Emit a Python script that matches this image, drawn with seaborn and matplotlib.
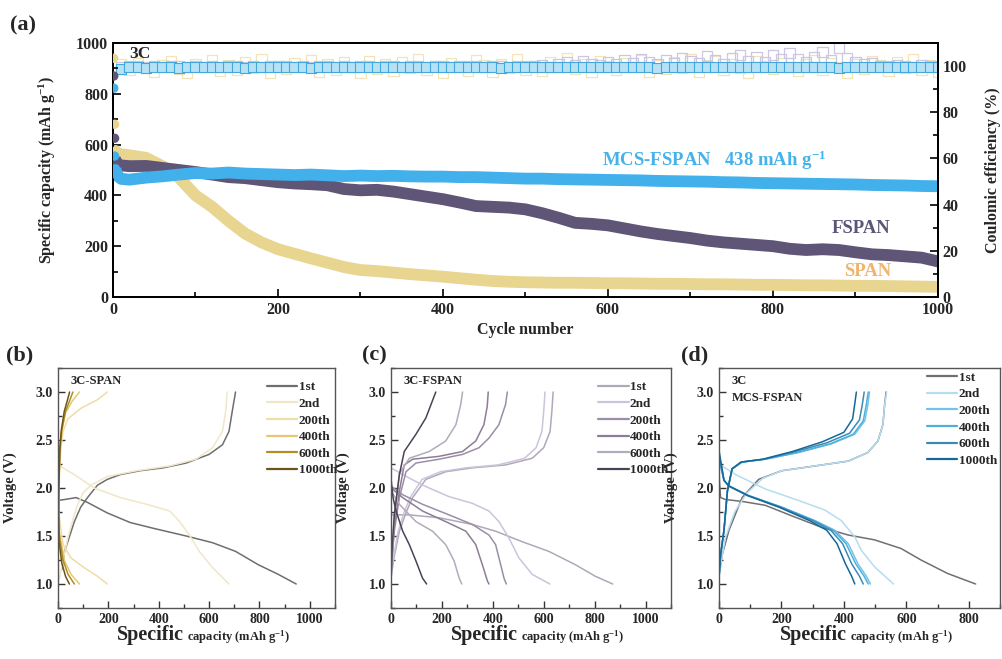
import matplotlib
matplotlib.use("Agg")
import matplotlib.pyplot as plt
import seaborn as sns
from matplotlib.ticker import MultipleLocator

# ---------------- panel (a) data ----------------
CYCLES = [1, 2, 3, 5, 10] + list(range(20, 1001, 20))
SPAN_CAP = [940, 680, 575, 568, 562, 558, 548, 515, 470, 400, 355, 300, 250, 215, 188,
            170, 152, 135, 118, 106, 102, 96, 90, 85, 80, 74, 68, 63, 60, 58,
            57, 56, 56, 55, 54, 54, 53, 52, 52, 51, 50, 50, 49, 48, 48,
            47, 46, 46, 45, 44, 44, 43, 42, 41, 40]
FSPAN_CAP = [870, 625, 540, 522, 518, 515, 516, 508, 500, 492, 482, 472, 468, 460, 452,
             447, 444, 440, 425, 420, 422, 415, 405, 395, 385, 372, 358, 355, 352, 345,
             330, 312, 292, 288, 282, 270, 258, 248, 240, 232, 222, 215, 210, 205, 200,
             190, 185, 188, 185, 176, 168, 165, 160, 155, 140]
MCS_CAP = [822, 555, 505, 478, 465, 462, 470, 475, 482, 488, 486, 490, 486, 484, 482,
           480, 482, 479, 476, 478, 476, 477, 475, 474, 474, 472, 472, 470, 468, 466,
           466, 464, 463, 462, 461, 460, 459, 457, 456, 455, 454, 452, 451, 449, 448,
           447, 446, 445, 444, 443, 441, 440, 439, 437, 436]

CE_CYCLES = list(range(10, 1001, 10))
MCS_CE = [98.8, 99.4, 99.6, 99.3, 99.7, 99.5, 99.6, 99.2, 99.6, 99.5,
          99.7, 99.4, 99.6, 99.5, 99.8, 99.3, 99.6, 99.5, 99.7, 99.4,
          99.6, 99.5, 99.7, 99.3, 99.6, 99.5, 99.8, 99.4, 99.6, 99.5,
          99.7, 99.4, 99.6, 99.6, 99.5, 99.8, 99.4, 99.6, 99.5, 99.7,
          99.5, 99.6, 99.4, 99.7, 99.5, 99.6, 99.3, 99.7, 99.5, 99.6,
          99.4, 99.7, 99.5, 99.6, 99.5, 99.8, 99.4, 99.6, 99.5, 99.7,
          99.6, 99.4, 99.7, 99.5, 99.6, 99.3, 99.7, 99.5, 99.6, 99.4,
          99.7, 99.5, 99.6, 99.4, 99.7, 99.5, 99.6, 99.5, 99.8, 99.4,
          99.6, 99.5, 99.7, 99.4, 99.6, 99.5, 99.7, 99.3, 99.6, 99.5,
          99.7, 99.4, 99.6, 99.5, 99.6, 99.7, 99.4, 99.6, 99.5, 99.6]
SPAN_CE = [100.8, 98.2, 101.5, 99.0, 97.6, 100.4, 102.3, 98.8, 96.9, 101.0,
           99.4, 102.8, 97.8, 100.6, 98.5, 101.8, 99.2, 103.0, 97.2, 100.2,
           98.6, 101.4, 99.8, 102.5, 97.4, 100.9, 98.1, 101.7, 99.5, 96.8,
           102.0, 98.9, 100.7, 97.7, 101.9, 99.3, 103.2, 98.4, 100.1, 97.1,
           101.3, 99.7, 98.0, 102.6, 100.5, 97.5, 101.1, 99.1, 102.9, 98.3,
           100.0, 97.9, 101.6, 99.6, 103.4, 98.7, 100.8, 97.3, 102.2, 99.9,
           98.2, 101.2, 99.4, 102.7, 97.6, 100.3, 98.8, 101.8, 99.0, 103.1,
           97.4, 100.6, 102.1, 98.5, 101.0, 99.2, 97.0, 102.4, 100.2, 98.6,
           101.5, 99.8, 97.7, 100.9, 102.8, 98.1, 101.3, 99.5, 96.9, 100.7,
           98.9, 102.2, 100.4, 97.8, 101.7, 99.1, 103.0, 98.4, 100.6, 97.5]
FSPAN_CE = [99.7, 99.9, 100.1, 99.8, 100.0, 99.6, 99.9, 100.2, 99.8, 100.0,
            99.8, 100.0, 99.7, 99.9, 100.1, 99.8, 100.0, 99.6, 99.9, 100.1,
            99.9, 99.7, 100.0, 99.8, 100.2, 99.9, 99.7, 100.0, 99.8, 99.9,
            100.0, 99.8, 99.9, 100.1, 99.7, 100.0, 99.9, 99.8, 100.1, 99.9,
            99.8, 100.0, 99.9, 100.2, 99.8, 99.9, 100.0, 99.7, 100.1, 99.9,
            99.9, 100.3, 99.7, 100.8, 101.6, 100.4, 102.2, 101.0, 100.6, 101.9,
            100.9, 102.5, 101.3, 103.0, 101.8, 100.7, 102.8, 101.2, 103.6, 102.0,
            101.4, 104.2, 102.6, 101.1, 103.4, 105.0, 102.1, 103.8, 101.6, 104.6,
            102.9, 105.5, 103.2, 101.8, 104.0, 106.3, 102.7, 107.8, 103.5, 101.9,
            100.8, 101.5, 100.2, 99.9, 100.6, 100.1, 99.8, 100.3, 99.9, 100.0]

CAP_TICKS = [0, 200, 400, 600, 800, 1000]
CE_TICKS = [0, 20, 40, 60, 80, 100]
V_TICKS = [1.0, 1.5, 2.0, 2.5, 3.0]

# ---------------- panels (b)-(d) data: (capacity, voltage) ----------------
CYCLE_LABELS = ["1st", "2nd", "200th", "400th", "600th", "1000th"]

B_DIS = {
    "1st": ([0, 26, 72, 117, 196, 287, 379, 509, 614, 705, 796, 875, 946],
            [1.87, 1.88, 1.90, 1.85, 1.74, 1.64, 1.58, 1.50, 1.43, 1.34, 1.20, 1.10, 1.00]),
    "2nd": ([0, 65, 144, 248, 352, 444, 483, 522, 561, 614, 679],
            [2.24, 2.14, 2.00, 1.90, 1.83, 1.76, 1.65, 1.51, 1.34, 1.17, 1.00]),
    "200th": ([0, 5, 20, 52, 104, 157, 196], [2.10, 1.70, 1.41, 1.27, 1.17, 1.08, 1.00]),
    "400th": ([0, 5, 26, 52, 85], [2.00, 1.55, 1.24, 1.10, 1.00]),
    "600th": ([0, 5, 20, 40, 65], [2.00, 1.50, 1.25, 1.10, 1.00]),
    "1000th": ([0, 4, 15, 30, 45], [1.90, 1.45, 1.22, 1.08, 1.00]),
}
B_CHG = {
    "1st": ([15, 26, 40, 65, 90, 117, 157, 196, 248, 326, 418, 509, 600, 653, 679, 692, 705],
            [1.15, 1.34, 1.45, 1.65, 1.80, 1.90, 2.03, 2.09, 2.14, 2.18, 2.21, 2.26, 2.35, 2.45, 2.59, 2.80, 3.00]),
    "2nd": ([5, 20, 39, 60, 78, 100, 131, 196, 313, 444, 548, 614, 653, 666, 672],
            [1.05, 1.25, 1.48, 1.68, 1.83, 1.95, 2.03, 2.12, 2.18, 2.23, 2.30, 2.42, 2.59, 2.80, 3.00]),
    "200th": ([0, 3, 7, 13, 20, 39, 91, 157, 196], [1.20, 1.83, 2.24, 2.45, 2.59, 2.72, 2.83, 2.92, 3.00]),
    "400th": ([0, 3, 8, 15, 30, 55, 85], [1.30, 2.00, 2.40, 2.60, 2.78, 2.90, 3.00]),
    "600th": ([0, 3, 8, 15, 30, 45, 59], [1.30, 2.00, 2.40, 2.60, 2.80, 2.90, 3.00]),
    "1000th": ([0, 3, 7, 13, 25, 36, 46], [1.30, 2.00, 2.40, 2.60, 2.80, 2.90, 3.00]),
}
C_DIS = {
    "1st": ([0, 72, 189, 320, 411, 516, 620, 725, 803, 871],
            [1.72, 1.72, 1.69, 1.62, 1.55, 1.44, 1.34, 1.20, 1.08, 1.00]),
    "2nd": ([0, 46, 124, 228, 320, 385, 424, 463, 503, 555, 624],
            [2.21, 2.14, 2.03, 1.91, 1.84, 1.76, 1.65, 1.48, 1.27, 1.10, 1.00]),
    "200th": ([0, 46, 124, 228, 320, 385, 411, 431, 444, 453],
              [2.02, 1.93, 1.83, 1.72, 1.62, 1.51, 1.41, 1.20, 1.06, 1.00]),
    "400th": ([0, 46, 124, 215, 294, 333, 359, 379, 385],
              [2.00, 1.90, 1.76, 1.65, 1.55, 1.41, 1.20, 1.03, 1.00]),
    "600th": ([0, 33, 98, 163, 215, 248, 268, 278],
              [1.97, 1.83, 1.65, 1.55, 1.41, 1.24, 1.06, 1.00]),
    "1000th": ([0, 8, 20, 46, 72, 98, 124, 140],
               [2.10, 1.90, 1.76, 1.55, 1.41, 1.24, 1.06, 1.00]),
}
C_CHG = {
    "1st": ([0, 10, 33, 60, 85, 137, 215, 320, 450, 555, 600, 625, 632, 637],
            [1.06, 1.25, 1.55, 1.75, 1.90, 2.09, 2.17, 2.21, 2.24, 2.31, 2.42, 2.59, 2.80, 3.00]),
    "2nd": ([0, 8, 28, 52, 75, 122, 195, 295, 420, 525, 570, 593, 600, 605],
            [1.06, 1.25, 1.55, 1.75, 1.90, 2.09, 2.17, 2.21, 2.24, 2.31, 2.42, 2.59, 2.80, 3.00]),
    "200th": ([0, 5, 13, 33, 59, 98, 189, 281, 346, 385, 424, 450, 457],
              [1.06, 1.30, 1.55, 1.90, 2.17, 2.26, 2.30, 2.35, 2.42, 2.52, 2.66, 2.87, 3.00]),
    "400th": ([0, 5, 13, 33, 52, 85, 189, 281, 333, 365, 378, 382],
              [1.06, 1.30, 1.60, 1.97, 2.24, 2.30, 2.33, 2.38, 2.49, 2.66, 2.85, 3.00]),
    "600th": ([0, 5, 13, 33, 72, 150, 215, 255, 274, 281],
              [1.06, 1.35, 1.70, 2.15, 2.31, 2.38, 2.49, 2.66, 2.87, 3.00]),
    "1000th": ([0, 5, 13, 33, 52, 98, 137, 176],
               [1.06, 1.40, 1.72, 2.14, 2.38, 2.56, 2.73, 3.00]),
}
D_DIS = {
    "1st": ([0, 5, 21, 74, 148, 233, 329, 414, 498, 583, 647, 732, 822],
            [2.14, 1.90, 1.88, 1.86, 1.82, 1.71, 1.59, 1.51, 1.46, 1.37, 1.25, 1.11, 1.00]),
    "2nd": ([0, 53, 148, 255, 339, 392, 435, 456, 498, 559],
            [2.25, 2.14, 1.99, 1.87, 1.77, 1.66, 1.49, 1.35, 1.18, 1.00]),
    "200th": ([0, 16, 32, 95, 201, 308, 371, 414, 445, 472, 485],
              [2.30, 2.08, 2.02, 1.92, 1.80, 1.66, 1.56, 1.42, 1.21, 1.08, 1.00]),
    "400th": ([0, 16, 32, 95, 201, 305, 366, 407, 438, 465, 478],
              [2.30, 2.08, 2.02, 1.92, 1.80, 1.66, 1.56, 1.42, 1.21, 1.08, 1.00]),
    "600th": ([0, 16, 32, 95, 198, 300, 358, 396, 425, 450, 462],
              [2.35, 2.08, 2.02, 1.92, 1.80, 1.66, 1.56, 1.42, 1.21, 1.08, 1.00]),
    "1000th": ([0, 16, 32, 92, 192, 290, 345, 378, 405, 425, 435],
               [2.39, 2.08, 2.02, 1.92, 1.80, 1.66, 1.56, 1.42, 1.21, 1.08, 1.00]),
}
D_CHG = {
    "1st": ([0, 10, 32, 74, 127, 201, 308, 414, 477, 509, 525, 530, 535],
            [1.08, 1.30, 1.56, 1.90, 2.09, 2.18, 2.23, 2.28, 2.37, 2.49, 2.66, 2.85, 3.00]),
    "2nd": ([0, 8, 21, 50, 90, 140, 201, 308, 414, 477, 509, 525, 530, 537],
            [1.08, 1.25, 1.49, 1.75, 1.95, 2.10, 2.18, 2.23, 2.28, 2.37, 2.49, 2.66, 2.85, 3.00]),
    "200th": ([0, 5, 16, 27, 42, 74, 148, 255, 360, 435, 467, 477, 482],
              [1.08, 1.30, 1.56, 1.97, 2.20, 2.27, 2.30, 2.37, 2.46, 2.56, 2.70, 2.87, 3.00]),
    "400th": ([0, 5, 16, 27, 42, 74, 148, 252, 356, 430, 462, 472, 478],
              [1.08, 1.30, 1.56, 1.97, 2.20, 2.27, 2.30, 2.37, 2.46, 2.56, 2.70, 2.87, 3.00]),
    "600th": ([0, 5, 16, 27, 42, 72, 145, 245, 345, 418, 450, 459, 465],
              [1.08, 1.30, 1.56, 1.97, 2.20, 2.27, 2.30, 2.38, 2.47, 2.57, 2.71, 2.87, 3.00]),
    "1000th": ([0, 5, 16, 27, 42, 70, 140, 235, 330, 400, 428, 435, 440],
               [1.08, 1.30, 1.56, 1.97, 2.20, 2.27, 2.30, 2.38, 2.48, 2.58, 2.72, 2.88, 3.00]),
}

B_COLORS = ["#6e6e6e", "#f1e6c8", "#f0dca8", "#e6c874", "#b08e24", "#6e5418"]
C_COLORS = ["#b0a8b8", "#cbc4da", "#9a8fa6", "#8d7d96", "#b3aabb", "#4a4356"]
D_COLORS = ["#707070", "#b5dcf0", "#72c3ec", "#4fb0de", "#3a8cb5", "#15689a"]

# ---------------- style ----------------
sns.set_theme(style="ticks")
plt.rcParams["font.family"] = ["Liberation Serif", "DejaVu Serif"]
plt.rcParams["font.weight"] = "bold"
plt.rcParams["axes.labelweight"] = "bold"
plt.rcParams["mathtext.fontset"] = "custom"
plt.rcParams["mathtext.rm"] = "Liberation Serif:bold"
plt.rcParams["mathtext.bf"] = "Liberation Serif:bold"
plt.rcParams["mathtext.it"] = "Liberation Serif:bold"

fig = plt.figure(figsize=(10.03, 6.59), dpi=100)
W, H = 1003.0, 659.0


def rect(x0, y0, x1, y1):
    return [x0 / W, 1 - y1 / H, (x1 - x0) / W, (y1 - y0) / H]


def bold_ticks(a, axis, ticks, fmt, size):
    labels = [fmt.format(t) for t in ticks]
    if axis == "x":
        a.set_xticks(ticks)
        a.set_xticklabels(labels, fontweight="bold", fontsize=size)
    else:
        a.set_yticks(ticks)
        a.set_yticklabels(labels, fontweight="bold", fontsize=size)


# ---------------- panel (a) ----------------
ax = fig.add_axes(rect(113, 43, 938, 297))
ax2 = ax.twinx()
ax.set_zorder(2)
ax.patch.set_visible(False)
ax2.set_zorder(1)

# CE squares (right axis)
sns.scatterplot(x=CE_CYCLES, y=SPAN_CE, ax=ax2, marker="s", s=52, facecolor="none",
                edgecolor="#f3e4b8", linewidth=0.9, legend=False)
sns.scatterplot(x=CE_CYCLES, y=FSPAN_CE, ax=ax2, marker="s", s=52, facecolor="none",
                edgecolor="#cdc6e2", linewidth=0.9, legend=False)
sns.scatterplot(x=CE_CYCLES, y=MCS_CE, ax=ax2, marker="s", s=52, facecolor="#b6e2f6",
                edgecolor="#45a8dc", linewidth=0.8, legend=False)

# capacity bands (left axis)
for vals, col in [(SPAN_CAP, "#e8d590"), (FSPAN_CAP, "#5e5577"), (MCS_CAP, "#42b0ea")]:
    sns.lineplot(x=CYCLES[2:], y=vals[2:], ax=ax, color=col, linewidth=8.5,
                 solid_capstyle="round", sort=False, estimator=None, legend=False)
    sns.scatterplot(x=CYCLES[:4], y=vals[:4], ax=ax, color=col, edgecolor="none",
                    s=45, marker="o", legend=False, zorder=3)

ax.set_xlim(0, 1000)
ax.set_ylim(0, 1000)
ax2.set_ylim(0, 110)
bold_ticks(ax, "x", CAP_TICKS, "{:d}", 11.5)
bold_ticks(ax, "y", CAP_TICKS, "{:d}", 11.5)
bold_ticks(ax2, "y", CE_TICKS, "{:d}", 11.5)
ax.xaxis.set_minor_locator(MultipleLocator(100))
ax.yaxis.set_minor_locator(MultipleLocator(100))
ax2.yaxis.set_minor_locator(MultipleLocator(10))
for a in (ax, ax2):
    a.tick_params(which="both", direction="in", width=1.2, color="black")
    a.tick_params(which="major", length=6)
    a.tick_params(which="minor", length=3.5)
    for sp in a.spines.values():
        sp.set_linewidth(1.4)
        sp.set_color("black")
        sp.set_visible(True)
ax.tick_params(which="both", top=False, right=False)
ax2.tick_params(which="both", left=False)
ax.set_xlabel("Cycle number", fontsize=11.5, labelpad=3)
ax.set_ylabel("Specific capacity (mAh g$^{-1}$)", fontsize=11.5)
ax.yaxis.set_label_coords(-55 / 825, 0.5)
ax2.set_ylabel("Coulomic efficiency (%)", fontsize=11.5, rotation=90)
ax2.yaxis.set_label_coords(1 + 47 / 825, 0.5)

ax.text(20, 955, "3C", fontsize=12.5, fontweight="bold", va="center", ha="left")
ax.text(593, 539, "MCS-FSPAN   438 mAh g$^{-1}$", color="#45b2ea", fontsize=13.5,
        fontweight="bold", va="center", ha="left")
ax.text(871, 268, "FSPAN", color="#5e5678", fontsize=13.5, fontweight="bold",
        va="center", ha="left")
ax.text(886, 102, "SPAN", color="#f0b46e", fontsize=13.5, fontweight="bold",
        va="center", ha="left")
fig.text(10 / W, 1 - 25 / H, "(a)", fontsize=16, fontweight="bold", va="center", ha="left")


# ---------------- panels (b)-(d) ----------------
def voltage_panel(r, dis, chg, colors, xmax, xticks, title_lines, label, label_xy, legend_anchor):
    axp = fig.add_axes(rect(*r))
    for i, cyc in enumerate(CYCLE_LABELS):
        q, v = dis[cyc]
        sns.lineplot(x=q, y=v, ax=axp, color=colors[i], linewidth=1.1, sort=False,
                     estimator=None, label=cyc)
        q, v = chg[cyc]
        sns.lineplot(x=q, y=v, ax=axp, color=colors[i], linewidth=1.1, sort=False,
                     estimator=None)
    axp.set_xlim(0, xmax)
    axp.set_ylim(0.75, 3.25)
    bold_ticks(axp, "x", xticks, "{:d}", 10)
    bold_ticks(axp, "y", V_TICKS, "{:.1f}", 10)
    axp.xaxis.set_minor_locator(MultipleLocator(100))
    axp.yaxis.set_minor_locator(MultipleLocator(0.25))
    axp.tick_params(which="both", direction="in", width=1.0, color="#333333",
                    top=False, right=False)
    axp.tick_params(which="major", length=5)
    axp.tick_params(which="minor", length=3)
    for sp in axp.spines.values():
        sp.set_linewidth(1.0)
        sp.set_color("#555555")
    axp.set_xlabel("")
    axp.set_ylabel("Voltage (V)", fontsize=10.5)
    axp.yaxis.set_label_coords(-41 / (r[2] - r[0]), 0.5)
    axp.text(0.455, -0.135, "Specific", transform=axp.transAxes, fontsize=14.5,
             fontweight="bold", ha="right", va="baseline")
    axp.text(0.465, -0.135, "capacity (mAh g$^{-1}$)", transform=axp.transAxes,
             fontsize=9, fontweight="bold", ha="left", va="baseline")
    for j, t in enumerate(title_lines):
        axp.text(0.045, 0.945 - j * 0.068, t, transform=axp.transAxes, fontsize=9,
                 fontweight="bold", ha="left", va="center")
    leg = axp.legend(loc="upper left", bbox_to_anchor=legend_anchor, frameon=False,
                     fontsize=9.5, handlelength=2.3, handletextpad=0.1,
                     labelspacing=0.33, borderaxespad=0, borderpad=0)
    for t in leg.get_texts():
        t.set_fontweight("bold")
    for h in leg.get_lines():
        h.set_linewidth(1.6)
    fig.text(label_xy[0] / W, 1 - label_xy[1] / H, label, fontsize=16,
             fontweight="bold", ha="left", va="center")
    return axp


voltage_panel((58, 368, 335, 608), B_DIS, B_CHG, B_COLORS, 1100, CAP_TICKS, ["3C-SPAN"],
              "(b)", (6, 355), (0.755, 0.945))
voltage_panel((391, 368, 671, 608), C_DIS, C_CHG, C_COLORS, 1100, CAP_TICKS, ["3C-FSPAN"],
              "(c)", (362, 355), (0.74, 0.945))
voltage_panel((719, 368, 1000, 608), D_DIS, D_CHG, D_COLORS, 900, CAP_TICKS[:-1],
              ["3C", "MCS-FSPAN"], "(d)", (681, 355), (0.74, 0.985))

fig.savefig("out.png", dpi=100)
